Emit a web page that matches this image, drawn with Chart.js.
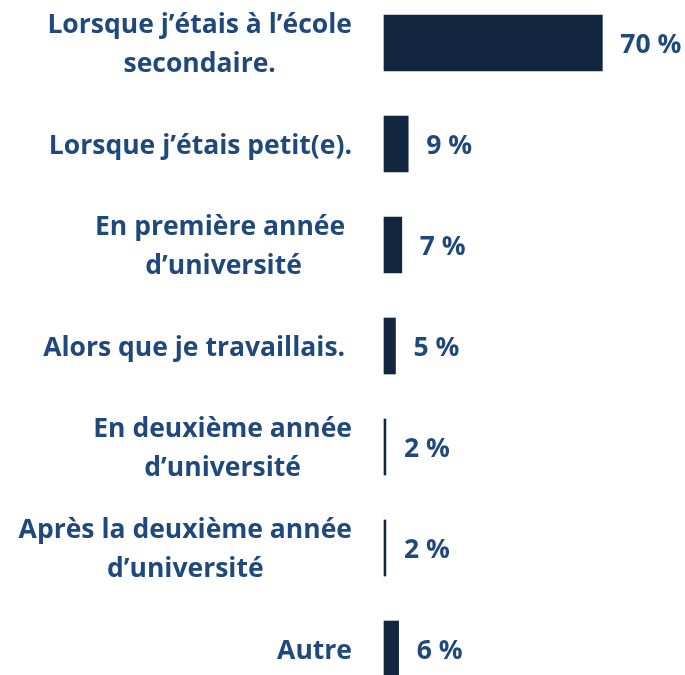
<!DOCTYPE html>
<html>
<head>
<meta charset="utf-8">
<script src="https://cdn.jsdelivr.net/npm/chart.js@4/dist/chart.umd.min.js"></script>
<style>
  html, body { margin: 0; padding: 0; background: #fff; }
  #wrap { width: 685px; height: 675px; position: relative; }
</style>
</head>
<body>
<div id="wrap"><canvas id="chart"></canvas></div>
<script>
// Chart data
const categories = [
    ['Lorsque j\u2019étais à l\u2019école', 'secondaire.'],
    ['Lorsque j\u2019étais petit(e).'],
    ['En première année ', 'd\u2019université'],
    ['Alors que je travaillais. '],
    ['En deuxième année', 'd\u2019université'],
    ['Après la deuxième année', 'd\u2019université'],
    ['Autre']
];
const percentages = [70, 9, 7, 5, 2, 2, 6];
const valueLabels = ['70 %', '9 %', '7 %', '5 %', '2 %', '2 %', '6 %'];

const textColor = '#1F497D';
const barColor = '#12263F';
const labelFont = 'bold 26.5px "Open Sans"';
const axisMin = 1.4;

// Draws the category labels (right-aligned block, lines centred) and the values
const labelPlugin = {
    id: 'labels',
    afterDatasetsDraw(chart) {
        const ctx = chart.ctx;
        const yScale = chart.scales.y;
        const meta = chart.getDatasetMeta(0);
        const textShift = 2; // 'middle' sits a touch high with this font
        ctx.save();
        ctx.font = labelFont;
        ctx.fillStyle = textColor;
        ctx.textBaseline = 'middle';
        ctx.textAlign = 'center';

        const rightEdge = 352;
        const lineHeight = 39;
        categories.forEach((lines, i) => {
            const yc = yScale.getPixelForValue(i) + textShift;
            const maxW = Math.max(...lines.map(l => ctx.measureText(l).width));
            const xc = rightEdge - maxW / 2;
            lines.forEach((line, j) => {
                const y = yc + (j - (lines.length - 1) / 2) * lineHeight;
                ctx.fillText(line, xc, y);
            });
        });

        ctx.textAlign = 'left';
        meta.data.forEach((bar, i) => {
            ctx.fillText(valueLabels[i], bar.x + 18, bar.y + textShift);
        });
        ctx.restore();
    }
};

new Chart(document.getElementById('chart'), {
    type: 'bar',
    data: {
        labels: categories,
        datasets: [{
            data: percentages,
            backgroundColor: barColor,
            borderWidth: 0,
            barThickness: 56,
            base: axisMin,
            clip: false
        }]
    },
    options: {
        indexAxis: 'y',
        responsive: true,
        maintainAspectRatio: false,
        animation: false,
        layout: {
            padding: { left: 384, right: 19, top: 43, bottom: 26 }
        },
        scales: {
            x: { display: false, min: axisMin, max: 90 },
            y: { display: false, offset: false }
        },
        plugins: {
            legend: { display: false },
            tooltip: { enabled: false }
        }
    },
    plugins: [labelPlugin]
});
</script>
</body>
</html>
